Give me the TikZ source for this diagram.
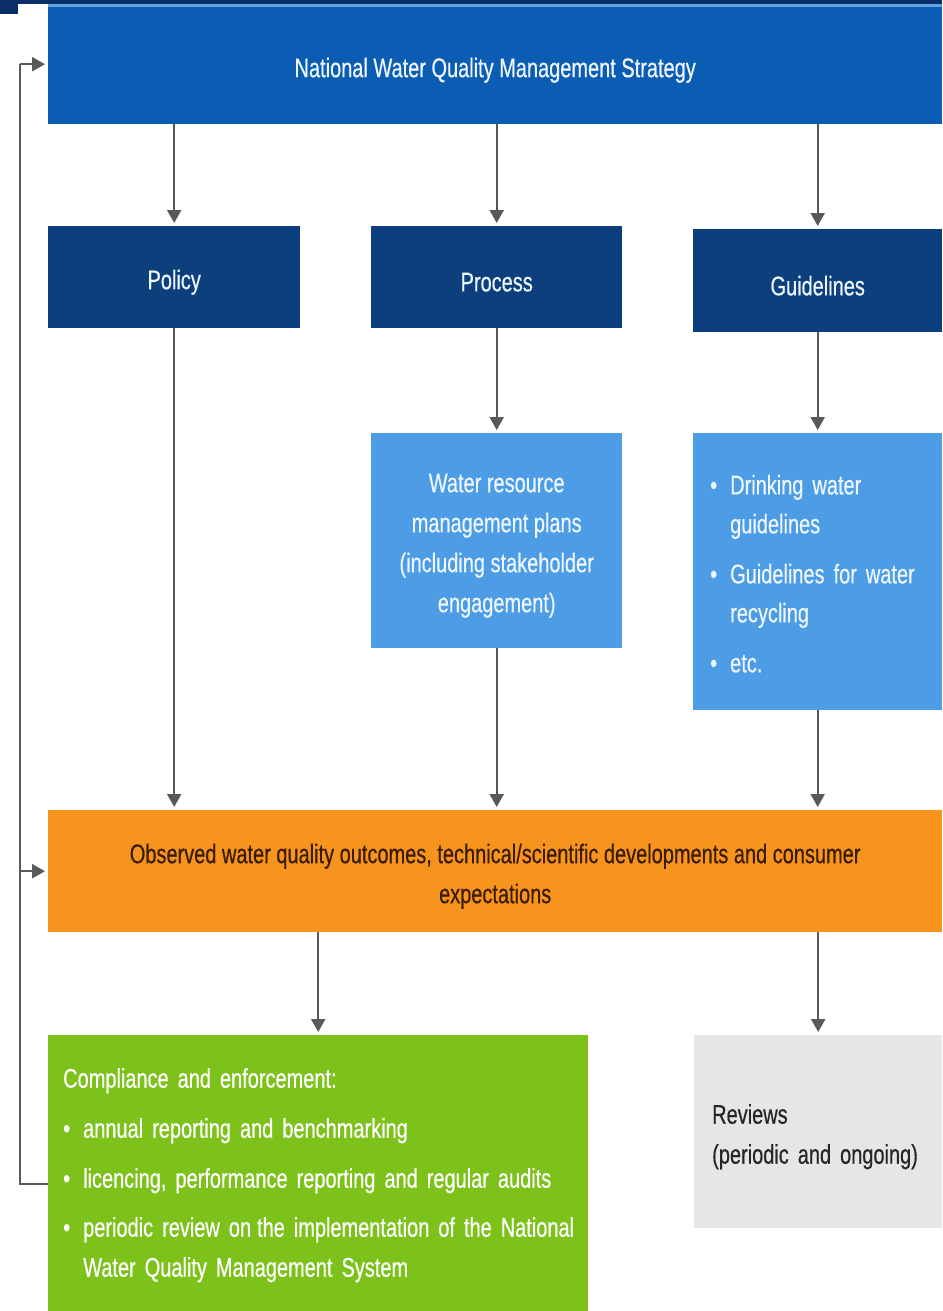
\documentclass[tikz,border=0pt]{standalone}
\usepackage{fontspec}
\setmainfont{Liberation Sans}[FakeStretch=0.74,FakeBold=0.5]
\usetikzlibrary{arrows.meta}
\definecolor{navyband}{HTML}{0A2F66}
\definecolor{topblue}{HTML}{0B5DB3}
\definecolor{toplight}{HTML}{5FA3E3}
\definecolor{navybox}{HTML}{0D3F7D}
\definecolor{lightblue}{HTML}{4C9CE6}
\definecolor{orangebox}{HTML}{F7941E}
\definecolor{greenbox}{HTML}{7DC21A}
\definecolor{greybox}{HTML}{E6E6E6}
\definecolor{arrowgrey}{HTML}{595959}
\definecolor{bluetext}{HTML}{EEF6FF}
\definecolor{browntext}{HTML}{3A1C00}
\newcommand{\bitem}[1]{{\hangindent=20pt\hangafter=1\noindent\makebox[20pt][l]{•}#1\par}}
\newcommand{\diagfont}[1]{\fontsize{27}{#1}\selectfont}
\tikzset{
  box/.style={rectangle, inner sep=0pt, anchor=north west},
  txt/.style={inner sep=0pt, font=\diagfont{40}},
  topbox/.style={box, fill=topblue},
  navy/.style={box, fill=navybox},
  lblue/.style={box, fill=lightblue},
  obox/.style={box, fill=orangebox},
  gbox/.style={box, fill=greenbox},
  rbox/.style={box, fill=greybox},
  arr/.style={draw=arrowgrey, line width=2.2pt, -{Triangle[length=13pt,width=14pt]}, shorten >=3pt},
  fbline/.style={draw=arrowgrey, line width=2.2pt},
}
\begin{document}
\begin{tikzpicture}[x=1pt,y=1pt]
\useasboundingbox (0,0) rectangle (942,-1311);
\fill[white] (0,0) rectangle (942,-1311);
% top decoration
\fill[navyband] (0,0) rectangle (942,-4);
\fill[navyband] (0,0) rectangle (18,-14);

\node[topbox, minimum width=894pt, minimum height=120pt] (nwqms) at (48,-4) {};
\fill[toplight] (48,-4) rectangle (942,-7);
\node[txt, text=bluetext] (nwqmsT) at ([yshift=-6pt]nwqms.center) {National Water Quality Management Strategy};

\node[navy, minimum width=252pt, minimum height=102pt] (policy) at (48,-226) {};
\node[txt, text=bluetext] (policyT) at ([yshift=-5pt]policy.center) {Policy};
\node[navy, minimum width=251pt, minimum height=102pt] (process) at (371,-226) {};
\node[txt, text=bluetext] (processT) at ([yshift=-5pt]process.center) {Process};
\node[navy, minimum width=249pt, minimum height=103pt] (guide) at (693,-229) {};
\node[txt, text=bluetext] (guideT) at ([yshift=-5pt]guide.center) {Guidelines};

\node[lblue, minimum width=251pt, minimum height=215pt] (wrm) at (371,-433) {};
\node[txt, text=bluetext, align=center] (wrmT) at ([yshift=-5pt]wrm.center)
  {Water resource\\management plans\\(including stakeholder\\engagement)};
\node[lblue, minimum width=249pt, minimum height=277pt] (drink) at (693,-433) {};
\node[txt, text=bluetext, text width=215pt, font=\diagfont{39}] (drinkT) at ([yshift=-2pt]drink.center)
  {\raggedright\bitem{Drinking water guidelines}\vspace{11pt}\bitem{Guidelines for water recycling}\vspace{11pt}\bitem{etc.}};

\node[obox, minimum width=894pt, minimum height=122pt] (obs) at (48,-810) {};
\node[txt, text=browntext, align=center] (obsT) at ([yshift=-5pt]obs.center)
  {Observed water quality outcomes, technical/scientific developments and consumer\\expectations};

\node[gbox, minimum width=540pt, minimum height=276pt] (comp) at (48,-1035) {};
\node[txt, text=white, text width=520pt, anchor=west] (compT) at ([xshift=15pt,yshift=-2pt]comp.west)
  {\raggedright\noindent Compliance and enforcement:\par\vspace{10pt}
   \bitem{annual reporting and benchmarking}\vspace{10pt}
   \bitem{licencing, performance reporting and regular audits}\vspace{9pt}
   \bitem{periodic review on\hspace{-3pt} the implementation of the National\newline Water Quality Management System}};

\node[rbox, minimum width=248pt, minimum height=193pt] (rev) at (694,-1035) {};
\node[txt, text=black!85, text width=212pt, align=left] (revT) at ([yshift=-5pt]rev.center)
  {Reviews\\(periodic and ongoing)};

% arrows
\draw[arr] (policy.north |- nwqms.south) -- (policy.north);
\draw[arr] (process.north |- nwqms.south) -- (process.north);
\draw[arr] (guide.north |- nwqms.south) -- (guide.north);
\draw[arr] (process.south) -- (wrm.north);
\draw[arr] (guide.south) -- (drink.north);
\draw[arr] (policy.south) -- (policy.south |- obs.north);
\draw[arr] (wrm.south) -- (wrm.south |- obs.north);
\draw[arr] (drink.south) -- (drink.south |- obs.north);
\draw[arr] (comp.north |- obs.south) -- (comp.north);
\draw[arr] (rev.north |- obs.south) -- (rev.north);

% feedback loop
\coordinate (fbstart) at ([yshift=-11pt]comp.west);
\coordinate (fbx) at (20,0);
\draw[fbline] (fbstart) -- (fbx |- fbstart) -- (fbx |- nwqms.west);
\draw[arr] (fbx |- nwqms.west) -- (nwqms.west);
\draw[arr] (fbx |- obs.west) -- (obs.west);
\end{tikzpicture}
\end{document}
